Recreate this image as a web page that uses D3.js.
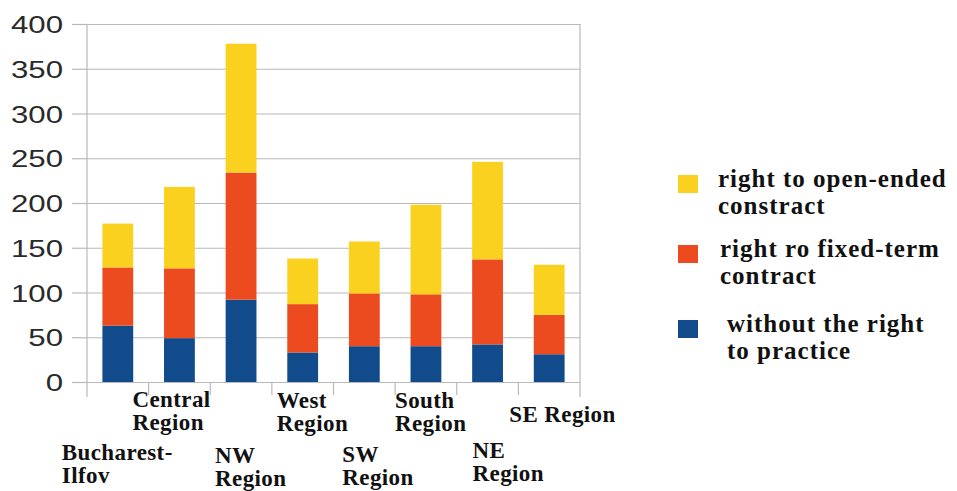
<!DOCTYPE html>
<html>
<head>
<meta charset="utf-8">
<script src="https://cdn.jsdelivr.net/npm/d3@7"></script>
<style>
    body { margin: 0; background: #fff; }
    svg { display: block; }
    .ytick text { font-family: "Liberation Sans", Arial, sans-serif; fill: #2a2a2a; }
    .cat, .legend text { font-family: "Liberation Serif", "Times New Roman", serif; font-weight: bold; fill: #111; }
</style>
</head>
<body>
<svg id="chart" width="957" height="491"></svg>
<script>
// data
const regions = ["Bucharest-Ilfov", "Central Region", "NW Region", "West Region", "SW Region", "South Region", "NE Region", "SE Region"]
const regionLabels = [["Bucharest-", "Ilfov"], ["Central", "Region"], ["NW", "Region"], ["West", "Region"], ["SW", "Region"], ["South", "Region"], ["NE", "Region"], ["SE Region"]]
const withoutRight = [63, 49, 92, 33, 40, 40, 42, 31]
const fixedTerm = [65, 78, 142, 54, 59, 58, 95, 44]
const openEnded = [49, 91, 144, 51, 58, 100, 109, 56]
const yTicks = [0, 50, 100, 150, 200, 250, 300, 350, 400]
const seriesNames = ["right to open-ended constract", "right ro fixed-term contract", "without the right to practice"]
const legendLines = [["right to open-ended", "constract"], ["right ro fixed-term", "contract"], ["without the right", "to practice"]]

// labels in the source were hand placed, so keep their offsets here
const labelDx = [-56, -47, -26, -26, -22, -31, -15, -40]
const labelY = [460, 407, 463, 408, 462, 408, 458, 422]

const colors = { open: "#fbd11f", fixed: "#ec4a1f", without: "#114b8c" }

const svg = d3.select("#chart")
const plot = { left: 87, right: 580, top: 24, bottom: 382 }

const x = d3.scaleBand()
    .domain(regions)
    .range([plot.left, plot.right])
    .paddingInner(0.5)
    .paddingOuter(0.25)

const y = d3.scaleLinear()
    .domain([0, 400])
    .range([plot.bottom, plot.top])

const rows = regions.map((r, i) => ({
    region: r,
    without: withoutRight[i],
    fixed: fixedTerm[i],
    open: openEnded[i],
}))

// grid lines
svg.append("g")
    .attr("transform", "translate(" + plot.left + ",0)")
    .call(d3.axisLeft(y).tickValues(yTicks).tickSize(-(plot.right - plot.left)).tickFormat(""))
    .call(g => g.select(".domain").remove())
    .selectAll("line").attr("stroke", "#b9b9b9").attr("stroke-width", 1.2)

// y axis with outer ticks and labels (the source numbers are drawn wide)
const stretch = 1.3
svg.append("g")
    .attr("class", "ytick")
    .attr("transform", "translate(" + plot.left + ",0)")
    .call(d3.axisLeft(y).tickValues(yTicks).tickSize(15))
    .call(g => g.select(".domain").remove())
    .call(g => g.selectAll("line").attr("stroke", "#b9b9b9").attr("stroke-width", 1.2))
    .call(g => g.selectAll("text")
        .attr("font-size", 24)
        .attr("dy", "0.36em")
        .attr("x", -24 / stretch)
        .attr("transform", "scale(" + stretch + ",1)"))

// vertical axis line, right border
svg.append("line")
    .attr("x1", plot.left).attr("x2", plot.left)
    .attr("y1", plot.top).attr("y2", plot.bottom + 15)
    .attr("stroke", "#b9b9b9").attr("stroke-width", 1.2)
svg.append("line")
    .attr("x1", plot.right).attr("x2", plot.right)
    .attr("y1", plot.top).attr("y2", plot.bottom + 15)
    .attr("stroke", "#b9b9b9").attr("stroke-width", 1.2)

// category boundary ticks
svg.append("g").selectAll("line")
    .data(d3.range(1, regions.length))
    .enter().append("line")
    .attr("x1", i => plot.left + i * x.step())
    .attr("x2", i => plot.left + i * x.step())
    .attr("y1", plot.bottom)
    .attr("y2", plot.bottom + 13)
    .attr("stroke", "#b9b9b9").attr("stroke-width", 1.2)

// stacked bars
const stack = d3.stack().keys(["without", "fixed", "open"])
const layers = stack(rows)

svg.append("g").selectAll("g")
    .data(layers)
    .enter().append("g")
    .attr("fill", d => colors[d.key])
    .selectAll("rect")
    .data(d => d)
    .enter().append("rect")
    .attr("x", d => x(d.data.region))
    .attr("width", x.bandwidth())
    .attr("y", d => y(d[1]))
    .attr("height", d => y(d[0]) - y(d[1]))

// category labels
const cats = svg.append("g").selectAll("text")
    .data(regions)
    .enter().append("text")
    .attr("class", "cat")
    .attr("font-size", 23)
    .attr("letter-spacing", 0.4)
    .attr("x", (d, i) => x(d) + x.bandwidth() / 2 + labelDx[i])
    .attr("y", (d, i) => labelY[i])

cats.selectAll("tspan")
    .data((d, i) => regionLabels[i].map(t => ({ t, x: x(d) + x.bandwidth() / 2 + labelDx[i] })))
    .enter().append("tspan")
    .attr("x", d => d.x)
    .attr("dy", (d, j) => j === 0 ? 0 : 23)
    .text(d => d.t)

// legend
const legendColors = [colors.open, colors.fixed, colors.without]
const legendTop = [175, 245, 320]
const legendTextX = [718, 720, 727]
const legend = svg.append("g").attr("class", "legend")
    .selectAll("g")
    .data(seriesNames)
    .enter().append("g")

legend.append("rect")
    .attr("x", 678)
    .attr("y", (d, i) => legendTop[i])
    .attr("width", 20)
    .attr("height", 18)
    .attr("fill", (d, i) => legendColors[i])

legend.append("text")
    .attr("font-size", 25)
    .attr("letter-spacing", 1)
    .attr("y", (d, i) => legendTop[i] + 12)
    .selectAll("tspan")
    .data((d, i) => legendLines[i].map(t => ({ t, i })))
    .enter().append("tspan")
    .attr("x", d => legendTextX[d.i])
    .attr("dy", (d, j) => j === 0 ? 0 : 27)
    .text(d => d.t)
</script>
</body>
</html>
